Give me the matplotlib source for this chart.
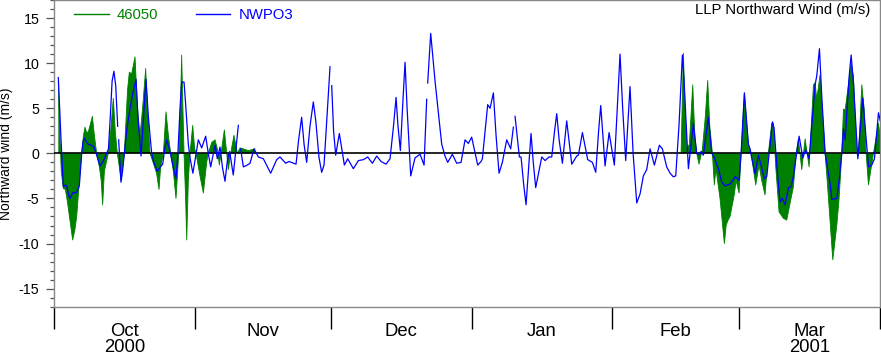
import numpy as np
import matplotlib
matplotlib.use("Agg")
import matplotlib.pyplot as plt
from matplotlib.lines import Line2D

plt.rcParams['font.family'] = ['Liberation Sans', 'DejaVu Sans']
plt.rcParams['axes.unicode_minus'] = False

# ---- data (days since 2000-10-01, m/s) ----
START = np.datetime64('2000-10-01')
MONTH_STARTS = ['2000-10-01', '2000-11-01', '2000-12-01', '2001-01-01',
                '2001-02-01', '2001-03-01', '2001-04-01']
MONTH_LABELS = ['Oct\n2000', 'Nov', 'Dec', 'Jan', 'Feb', 'Mar\n2001']

nan = np.nan

nwpo3_day = [
    0.95, 1.5, 2.06, 2.5, 2.79, 3.2, 3.53, 3.9, 4.26, 4.6, 5.0, 5.58, 6.1, 6.4,
    6.68, 7.1, 7.57, 8.2, 8.81, 9.4, 10.14, 10.7, 11.6, 12.0, 12.4, 12.8, 13.2,
    13.6, 14.03, 14.1, 14.25, 14.76, 15.1, 15.5, 16.0, 16.6, 17.3, 18.07, 18.5,
    19.17, 19.6, 20.27, 20.8, 21.52, 22.0, 22.77, 23.3, 23.95, 24.4, 24.83, 25.3,
    25.78, 26.4, 26.88, 27.3, 27.77, 28.13, 28.65, 29.0, 29.6, 29.97, 30.6, 31.0,
    31.8, 32.54, 33.42, 34.0, 34.52, 35.48, 35.99, 36.58, 37.1, 37.68, 38.2, 38.7,
    39.5, 40.1, 40.62, 40.8, 41.13, 41.72, 42.6, 43.19, 44.07, 45.03, 46.13, 47.74,
    49.07, 49.8, 51.05, 51.78, 53.33, 53.9, 54.57, 55.1, 55.67, 56.4, 57.14, 57.7,
    58.4, 58.98, 59.5, 60.2, 60.82, 61.0, 61.19, 61.6, 62.07, 62.87, 63.98, 64.71,
    65.96, 67.07, 68.17, 69.12, 70.15, 71.1, 72.06, 73.16, 74.04, 74.8, 75.37,
    75.8, 76.32, 76.9, 77.35, 77.8, 78.6, 79.55, 80.66, 81.54, 82.12, 82.2, 82.34,
    83.0, 83.96, 84.69, 85.43, 86.16, 86.75, 87.78, 88.73, 89.69, 90.57, 91.3,
    92.03, 93.36, 94.1, 94.39, 95.56, 96.08, 96.81, 97.4, 98.06, 98.79, 99.75,
    100.63, 101.22, 101.35, 101.59, 102.54, 102.91, 103.5, 104.01, 104.6, 105.11,
    105.6, 106.14, 107.47, 108.2, 109.08, 109.67, 110.3, 110.77, 111.3, 112.02,
    112.97, 114.08, 115.18, 115.54, 116.43, 117.6, 118.63, 119.37, 120.0, 120.47,
    121.42, 122.31, 123.47, 124.1, 124.72, 125.3, 125.97, 126.92, 127.6, 128.4,
    129.13, 129.86, 130.6, 131.34, 132.29, 133.39, 134.05, 135.0, 135.74, 136.47,
    136.99, 137.7, 138.46, 138.83, 139.78, 140.88, 141.61, 142.13, 142.57, 143.08,
    144.18, 144.92, 145.51, 146.39, 147.12, 147.86, 148.96, 149.69, 150.07, 150.43,
    150.95, 151.4, 152.12, 153.0, 153.37, 153.74, 154.47, 155.21, 155.72, 156.53,
    157.04, 158.3, 158.66, 159.25, 159.98, 160.5, 161.09, 161.83, 162.41, 162.93,
    164.18, 164.99, 165.65, 166.38, 167.7, 168.07, 168.66, 169.2, 169.91, 171.01,
    171.38, 172.48, 172.99, 173.58, 173.95, 174.32, 175.2, 175.64, 176.15, 177.11,
    178.21, 179.46, 180.19, 180.78, 181.66, 182.25]
nwpo3_val = [
    8.4, 2.0, -3.7, -3.5, -3.6, -4.6, -5.0, -4.6, -4.3, -4.4, -4.3, -3.6, 0.0, 1.3,
    1.7, 1.3, 1.0, 0.9, 0.7, -0.2, -1.4, -1.0, 0.0, 0.5, 4.0, 8.0, 9.1,
    7.5, 3.0, nan, 1.5, -3.2, -2.0, 0.0, 2.5, 4.5, 6.5, 8.2, 4.0,
    -0.3, 3.0, 8.2, 4.0, 0.0, -1.0, -2.0, -1.6, -1.2, 0.5, 1.5, 0.7,
    -0.3, -1.8, -2.8, 0.0, 5.0, 7.9, 7.9, 5.5, 1.0, -0.5, -2.2, -1.0,
    1.5, 0.6, 1.9, 0.0, -1.5, 0.9, -0.6, 0.7, -1.5, -3.1, -0.8, 0.2,
    -2.4, 0.5, 3.1, nan, 0.5, -1.5, -1.3, -1.1, 0.5, -0.4, -0.6, -2.2,
    -0.7, -0.4, -1.1, -0.9, -1.2, 1.5, 4.0, 1.0, -1.0, 3.0, 5.7, 3.5,
    -0.5, -2.1, -1.3, 4.5, 9.6, nan, 7.5, 2.5, -0.2, 2.2, -1.3, -0.6,
    -1.7, -0.8, -0.7, -0.4, -1.1, -0.3, -0.9, -1.2, -0.6, 3.0, 6.2,
    3.0, 0.3, 6.0, 10.1, 5.0, -2.5, -0.5, -0.1, -1.3, 6.0, nan, 7.8,
    13.3, 8.0, 4.5, 1.0, -0.3, -1.0, -0.1, -1.1, -1.0, 1.5, 1.1,
    1.8, -1.3, -0.9, -0.6, 5.4, 5.0, 6.7, 2.0, -2.2, -1.0, 1.5,
    0.5, 2.9, nan, 4.1, -0.4, -0.4, -3.5, -5.7, -1.5, 2.2,
    -1.0, -3.8, -0.4, -0.8, -0.4, -0.4, 2.5, 4.4, 1.5, -1.1,
    3.6, -1.2, -0.3, -0.2, 2.3, -0.7, -1.0, -2.1, 2.5, 5.3,
    -1.4, 2.3, -1.3, 5.0, 11.0, 5.0, -0.8, 7.4, 0.0, -5.5,
    -4.5, -2.5, -1.8, 0.5, -1.3, 0.9, 0.5, -1.5, -2.2, -2.6,
    -2.5, 3.0, 10.9, 8.0, -1.7, 3.3, 0.0, -0.1, 0.2, -0.2,
    4.0, 0.0, -0.5, -1.7, -3.2, -3.6, -3.4, -2.9, -2.6, -2.7,
    -3.0, 0.0, 6.7, 1.0, 0.5, -0.5, -2.3, -0.2, -1.2, -2.8,
    -2.6, 3.5, 2.8, -1.3, -5.4, -5.0, -5.7, -3.8, -3.7, -2.5,
    1.9, -0.5, 0.4, -0.6, 7.6, 8.6, 11.6, 6.0, 0.0, -3.4,
    -5.1, -5.0, -3.0, 0.0, 2.7, 1.5, 8.5, 10.9, 7.8, -0.6,
    6.1, -1.5, -1.3, -0.6, 4.5, 3.2]

buoy_day = [
    0.95, 1.3, 1.6, 2.06, 2.5, 3.0, 3.53, 4.11, 4.6, 5.0, 5.45, 6.1, 6.5, 6.83,
    7.2, 7.57, 8.0, 8.45, 8.9, 9.4, 10.0, 10.4, 10.72, 11.1, 11.97, 12.5, 13.07,
    13.5, 13.95, 14.4, 14.76, 15.5, 16.2, 16.6, 17.11, 17.85, 18.4, 18.95, 19.6,
    20.2, 20.6, 21.15, 21.9, 22.6, 23.14, 23.5, 24.1, 24.68, 25.2, 25.71, 26.3,
    26.88, 27.5, 27.9, 28.13, 28.4, 28.65, 29.0, 29.24, 29.6, 29.97, 30.56, 31.0,
    31.29, 32.17, 32.91, 33.64, 34.0, 34.75, 35.48, 35.99, 36.43, 36.95, 37.54,
    38.05, 38.41, 38.93, 39.66, 40.4, 40.99, 41.72, 42.82, 44.29, 44.4,
    138.17, 138.68, 139.1, 139.42, 140.0, 140.74, 141.2, 141.62, 142.13, 142.87,
    143.5, 144.04, 144.5, 145.07, 145.5, 145.8, 146.02, 146.75, 147.71, 148.1,
    148.44, 148.96, 149.92, 150.28, 150.95, 151.39, 152.12, 153.0, 153.6, 154.62,
    155.35, 155.94, 156.67, 157.4, 158.14, 158.51, 159.03, 159.76, 160.71, 161.45,
    162.19, 162.93, 163.51, 164.03, 164.76, 165.5, 166.38, 167.34, 167.7, 168.07,
    168.8, 169.91, 170.65, 171.6, 172.48, 172.99, 173.58, 173.95, 174.32, 175.05,
    175.64, 176.15, 176.89, 177.25, 177.99, 178.5, 178.94, 179.46, 180.19, 180.56,
    181.66, 182.25]
buoy_val = [
    8.0, 2.0, -2.0, -3.9, -4.0, -5.5, -7.5, -9.6, -8.5, -7.0, -4.0, 0.0, 2.0, 2.9,
    2.3, 2.4, 3.2, 4.1, 2.0, 0.0, -1.5, -3.0, -5.7, -2.0, 0.0, 2.5, 6.1,
    2.5, 0.0, -1.5, -3.0, 0.0, 7.0, 9.0, 8.8, 10.7, 5.0, 1.9, 5.5,
    9.4, 5.0, 0.0, -1.1, -2.2, -4.0, -1.5, 0.0, 4.6, 2.0, 0.0, -2.0,
    -5.0, 0.0, 6.0, 10.9, 5.0, 0.0, -5.0, -9.6, -3.0, 0.0, 3.1, 0.5,
    0.0, -2.5, -4.4, -1.0, 0.0, 1.2, 1.5, 0.5, -1.3, 0.5, 2.6,
    0.0, -1.8, 0.0, 2.0, 0.0, 0.6, 0.5, 0.3, 0.5, nan,
    0.0, 11.1, 4.0, 0.5, 1.0, 7.6, 2.0, 0.0, -1.2, 0.5,
    4.0, 8.1, 3.0, 0.0, -3.5, -2.0, -2.3, -5.0, -10.0, -8.0,
    -7.5, -7.0, -4.5, -3.0, -4.4, 0.0, 6.7, 1.0, 0.0, -3.5,
    -1.3, -3.0, -4.6, 0.0, 3.3, 3.3, -1.5, -6.5, -7.2, -7.4,
    -5.5, -3.7, 0.0, 1.6, -1.8, 1.6, -1.5, 7.6, 7.8, 6.0,
    8.7, 0.0, -5.0, -11.8, -8.0, -5.0, 0.0, 4.9, 4.8, 7.7,
    10.0, 8.5, 0.0, -0.3, 7.6, 5.0, 0.0, -3.5, -1.2, 0.0,
    3.3, 1.2]


def main() -> None:
    month_days = np.array([(np.datetime64(m) - START).astype(int) for m in MONTH_STARTS])
    mid_days = 0.5 * (month_days[:-1] + month_days[1:])

    bx = np.array(buoy_day)
    by = np.array(buoy_val)
    nx = np.array(nwpo3_day)
    ny = np.array(nwpo3_val)

    fig = plt.figure(figsize=(8.81, 3.57), dpi=100)
    ax = fig.add_axes([54/881, 1 - 306.7/357, 826/881, 306.7/357])

    # buoy filled to zero, station line on top
    ax.fill_between(bx, by, 0, color='green', linewidth=0)
    ax.plot(bx, by, color='green', lw=0.6)
    ax.axhline(0, color='black', lw=1.2, zorder=3)
    ax.plot(nx, ny, color='blue', lw=0.9, zorder=4)

    ax.set_xlim(month_days[0], month_days[-1])
    ax.set_ylim(-17, 17)

    # y axis
    ax.set_yticks(np.arange(-15, 16, 5))
    ax.set_yticks(np.arange(-17, 18, 1), minor=True)
    ax.tick_params(axis='y', which='major', direction='out', length=5.5,
                   width=0.9, color='#555555', labelsize=10.3, pad=5)
    ax.tick_params(axis='y', which='minor', direction='out', length=3,
                   width=0.9, color='#555555')
    ax.set_ylabel('Northward wind (m/s)', fontsize=10)
    ax.yaxis.set_label_coords(-(54 - 13) / 826, 0.5)

    # x axis: month boundaries as ticks, names centred
    ax.set_xticks(month_days)
    ax.set_xticklabels([''] * len(month_days))
    ax.set_xticks(mid_days, minor=True)
    ax.set_xticklabels(MONTH_LABELS, minor=True)
    ax.tick_params(axis='x', which='major', direction='out', length=16,
                   width=1.0, color='black')
    ax.tick_params(axis='x', which='minor', length=0, labelsize=13.3, pad=11.5)
    for t in ax.get_xticklabels(minor=True):
        t.set_linespacing(0.98)

    for s in ax.spines.values():
        s.set_color('#888888')
        s.set_linewidth(1.0)

    handles = [Line2D([], [], color='green', lw=1.0),
               Line2D([], [], color='blue', lw=1.0)]
    ax.legend(handles, ['46050', 'NWPO3'], ncol=2, frameon=False,
              loc='center left', bbox_to_anchor=(0.024, 0.952),
              borderpad=0, borderaxespad=0, handlelength=2.35,
              handletextpad=0.55, columnspacing=2.5, fontsize=10.7,
              labelcolor='linecolor')

    ax.text(0.988, 0.966, 'LLP Northward Wind (m/s)', transform=ax.transAxes,
            ha='right', va='center', fontsize=10.7)

    plt.savefig('out.png', dpi=100)


if __name__ == "__main__":
    main()
